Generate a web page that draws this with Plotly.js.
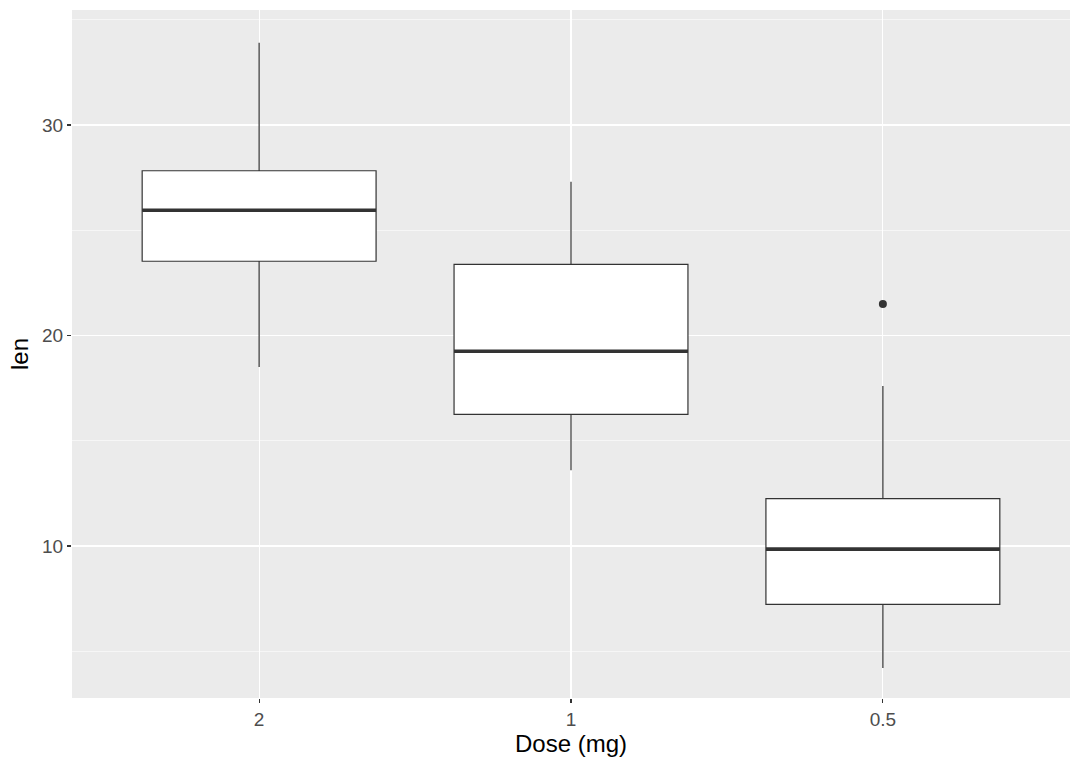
<!DOCTYPE html>
<html>
<head>
<meta charset="utf-8">
<script src="https://cdn.plot.ly/plotly-3.0.1.min.js"></script>
<style>html,body{margin:0;padding:0;background:#fff;}#chart{width:1080px;height:771px;}</style>
</head>
<body>
<div id="chart"></div>
<script>
// Tick labels / categories (in display order)
const doses = ["2", "1", "0.5"];
// Box statistics
const lowerWhisker = [18.5, 13.6, 4.2];
const q1Values = [23.525, 16.25, 7.225];
const medians = [25.95, 19.25, 9.85];
const q3Values = [27.825, 23.375, 12.25];
const upperWhisker = [33.9, 27.3, 17.6];
// Outliers
const outlierDose = ["0.5"];
const outlierLen = [21.5];
// Y axis ticks
const yMajorTicks = [10, 20, 30];
const yMinorTicks = [5, 15, 25, 35];

const pos = doses.map((d, i) => i);
const boxWidth = 0.75;

const traces = [];
traces.push({
  type: 'box',
  x: pos,
  q1: q1Values,
  median: medians,
  q3: q3Values,
  lowerfence: lowerWhisker,
  upperfence: upperWhisker,
  width: boxWidth,
  whiskerwidth: 0,
  fillcolor: '#FFFFFF',
  line: {color: '#333333', width: 1.2},
  boxpoints: false,
  hoverinfo: 'skip',
  showlegend: false
});
// Thick median lines (ggplot style)
doses.forEach((d, i) => {
  traces.push({
    type: 'scatter', mode: 'lines',
    x: [pos[i] - boxWidth / 2, pos[i] + boxWidth / 2],
    y: [medians[i], medians[i]],
    line: {color: '#333333', width: 3.6},
    hoverinfo: 'skip', showlegend: false
  });
});
traces.push({
  type: 'scatter', mode: 'markers',
  x: outlierDose.map(d => doses.indexOf(d)),
  y: outlierLen,
  marker: {color: '#333333', size: 8},
  hoverinfo: 'skip', showlegend: false
});

const layout = {
  width: 1080, height: 771,
  margin: {l: 72, r: 10, t: 10, b: 73},
  paper_bgcolor: '#FFFFFF',
  plot_bgcolor: '#EBEBEB',
  showlegend: false,
  font: {family: 'Liberation Sans, Arial, sans-serif'},
  xaxis: {
    range: [-0.6, 2.6],
    tickmode: 'array',
    tickvals: pos,
    ticktext: doses,
    showgrid: true, gridcolor: '#FFFFFF', gridwidth: 1.1,
    zeroline: false, showline: false,
    ticks: 'outside', ticklen: 4, tickwidth: 1.1, tickcolor: '#333333',
    tickfont: {size: 19, color: '#4D4D4D'},
    title: {text: 'Dose (mg)', font: {size: 24, color: '#000000'}, standoff: 6}
  },
  yaxis: {
    range: [2.78, 35.46],
    tickmode: 'array',
    tickvals: yMajorTicks,
    showgrid: true, gridcolor: '#FFFFFF', gridwidth: 1.1,
    minor: {tickmode: 'array', tickvals: yMinorTicks, showgrid: true, gridcolor: '#FFFFFF', gridwidth: 0.55, ticks: ''},
    zeroline: false, showline: false,
    ticks: 'outside', ticklen: 4, tickwidth: 1.1, tickcolor: '#333333',
    tickfont: {size: 19, color: '#4D4D4D'},
    title: {text: 'len', font: {size: 24, color: '#000000'}, standoff: 6}
  }
};

Plotly.newPlot('chart', traces, layout, {staticPlot: true, displayModeBar: false});
</script>
</body>
</html>
